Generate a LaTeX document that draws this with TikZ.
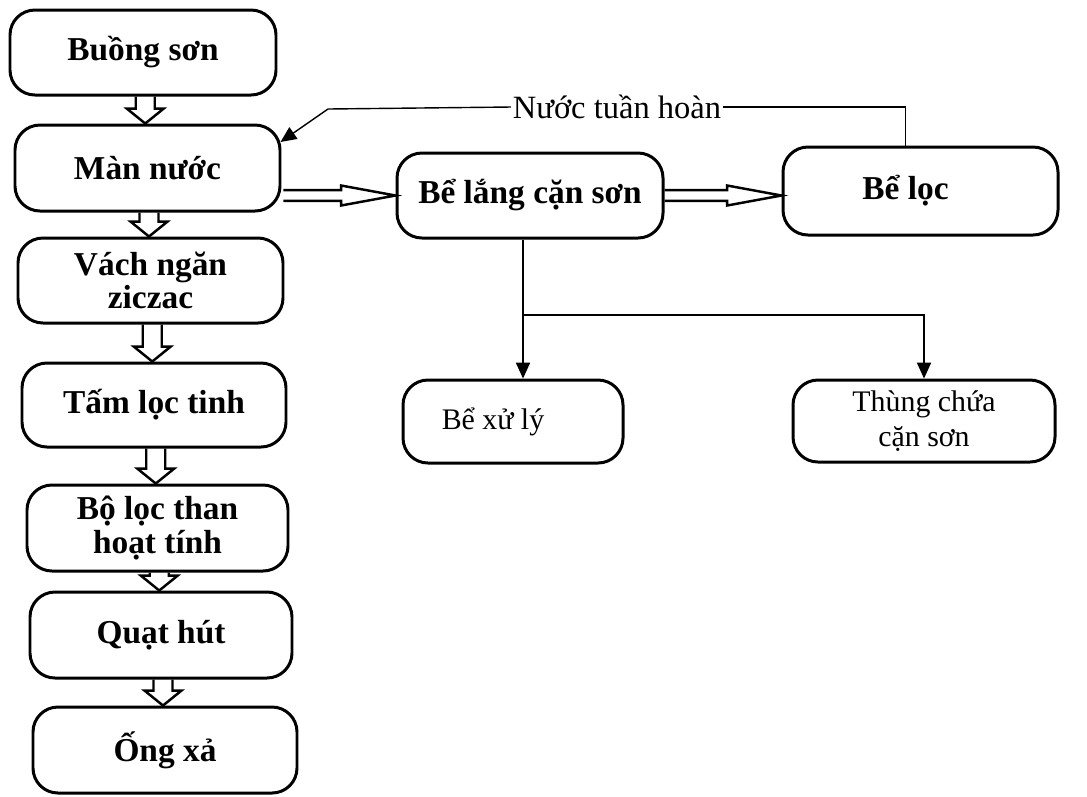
\documentclass[tikz,border=0pt]{standalone}
\usepackage{fontspec}
\setmainfont{Liberation Serif}
\usetikzlibrary{calc,arrows.meta}
\begin{document}
\begin{tikzpicture}[x=0.02cm,y=-0.02cm,
  box/.style={draw,line width=1.7pt,rounded corners=0.5cm,align=center,
    inner sep=0pt,font=\fontsize{19}{19}\selectfont\bfseries},
  plainbox/.style={box,font=\fontsize{17}{20}\selectfont},
  sz/.style 2 args={minimum width=#1*0.02cm,minimum height=#2*0.02cm},
  hollow/.style={line width=1.4pt,line join=miter},
  link/.style={line width=0.8pt},
  tip/.style={-{Triangle[length=9pt,width=8pt]}}]

% canvas
\useasboundingbox[fill=white] (0,0) rectangle (1087,796);

% left column: air treatment chain
\node[box,sz={266}{85}] (b1) at (143,52.5) {Buồng sơn};
\node[box,sz={265}{86}] (b2) at (147.5,168) {Màn nước};
\node[box,sz={265}{85}] (b3) at (150.5,280.5) {Vách ngăn\\ziczac};
\node[box,sz={264}{84}] (b4) at (154,405) {Tấm lọc tinh};
\node[box,sz={261}{86}] (b5) at (157.5,528) {Bộ lọc than\\hoạt tính};
\node[box,sz={262}{86}] (b6) at (161,635) {Quạt hút};
\node[box,sz={264}{86}] (b7) at (165,750) {Ống xả};

% right part: water treatment
\node[box,sz={266}{85}] (b8) at (530,195.5) {Bể lắng cặn sơn};
\node[box,sz={275}{88}] (b9) at (920.5,191) {\hspace*{-0.6cm}Bể lọc};
\node[plainbox,sz={220}{83}] (b10) at (513,421.5) {\hspace*{-0.8cm}Bể xử lý};
\node[plainbox,sz={262}{82}] (b11) at (924,421) {Thùng chứa\\cặn sơn};

% hollow downward arrows between the stages
\newcommand\hdown[2]{%
  \draw[hollow] let \p1=(#1.south), \p2=(#2.north),
    \p3=($(#1.south)!.5!(#2.north)$) in
    (\x3-5.4pt,\y1) -- (\x3-5.4pt,\y2+8.5pt) -- (\x3-10.5pt,\y2+8.5pt)
    -- (\x3,\y2) -- (\x3+10.5pt,\y2+8.5pt) -- (\x3+5.4pt,\y2+8.5pt)
    -- (\x3+5.4pt,\y1);}
\hdown{b1}{b2}
\hdown{b2}{b3}
\hdown{b3}{b4}
\hdown{b4}{b5}
\hdown{b5}{b6}
\hdown{b6}{b7}

% hollow rightward arrows
\newcommand\hright[2]{%
  \draw[hollow] let \p1=(#1), \p2=(#2) in
    (\x1,\y1+3.1pt) -- (\x2-31pt,\y1+3.1pt) -- (\x2-31pt,\y1+5.7pt)
    -- (\x2,\y1) -- (\x2-31pt,\y1-5.7pt) -- (\x2-31pt,\y1-3.1pt)
    -- (\x1,\y1-3.1pt);}
\coordinate (m2) at ($(b2.east |- b8.west)+(2,0)$);
\hright{m2}{b8.west}
\hright{b8.east}{b9.west}

% recirculated water
\node[font=\fontsize{18.5}{20}\selectfont,inner sep=1pt] (rec) at (617,107) {Nước tuần hoàn};
\coordinate (up) at ($(b9.north)+(-15,0)$);
\coordinate (bend) at (328,109);
\coordinate (inlet) at ($(b2.east)+(-1,-26)$);
\draw[link] (up) -- (up |- rec.east) -- (rec.east);
\draw[link,tip] (rec.west) -- (bend) -- (inlet);

% sludge distribution
\coordinate (drop) at ($(b8.south)+(-7,0)$);
\coordinate (split) at (drop |- 0,315);
\draw[link,tip] (drop) -- (drop |- b10.north);
\draw[link,tip] (split) -- (split -| b11.north) -- (b11.north);

\end{tikzpicture}
\end{document}
